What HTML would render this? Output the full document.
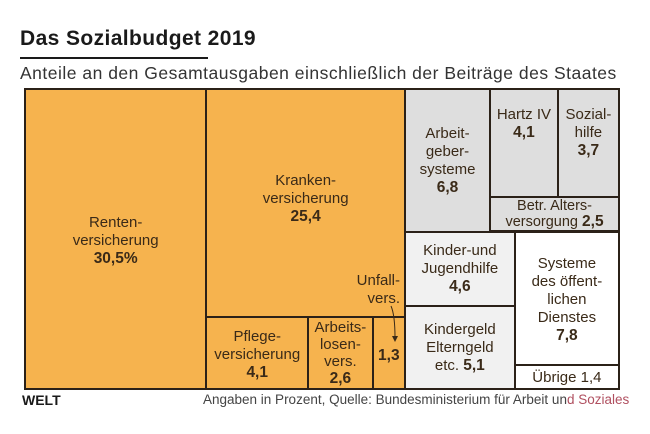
<!DOCTYPE html>
<html><head><meta charset="utf-8"><style>
body{margin:0;width:650px;height:434px;background:#fff;font-family:"Liberation Sans",sans-serif;overflow:hidden;position:relative;color:#2b2118}
#title{position:absolute;left:20px;top:27px;font-size:21px;font-weight:bold;color:#1a1a1a;letter-spacing:0.4px}
#uline{position:absolute;left:20px;top:57px;width:188px;height:2px;background:#1a1a1a}
#sub{position:absolute;left:20px;top:63px;font-size:17.5px;color:#333;letter-spacing:0.5px}
#map{position:absolute;left:0;top:0;width:650px;height:434px}
.cell{position:absolute;box-sizing:border-box;border:2px solid #2b2118;display:flex;flex-direction:column;align-items:center;justify-content:center;text-align:center;font-size:15px;line-height:18px;color:#3a2a18;white-space:nowrap}
.cell b{font-size:15.5px}
#welt{position:absolute;left:22px;top:392px;font-size:14px;font-weight:900;color:#1a1a1a}
#src{position:absolute;left:203px;top:392px;font-size:13.5px;color:#444}
</style></head><body>
<div id="title">Das Sozialbudget 2019</div>
<div id="uline"></div>
<div id="sub">Anteile an den Gesamtausgaben einschließlich der Beiträge des Staates</div>
<div id="map"></div>
<div id="welt">WELT</div>
<div id="src">Angaben in Prozent, Quelle: Bundesministerium für Arbeit un<span style="color:#b05060">d Soziales</span></div>
<script>
const names=["Renten","Kranken","Pflege","Arbeitslosen","Unfall","Arbeitgeber","Hartz","Sozial","Betr","KiJu","Kindergeld","Systeme","Uebrige"];
const values=[30.5,25.4,4.1,2.6,1.3,6.8,4.1,3.7,2.5,4.6,5.1,7.8,1.4];
const labels=["Renten-<br>versicherung<br><b>30,5%</b>","Kranken-<br>versicherung<br><b>25,4</b>","Pflege-<br>versicherung<br><b>4,1</b>","Arbeits-<br>losen-<br>vers.<br><b>2,6</b>","<b>1,3</b>","Arbeit-<br>geber-<br>systeme<br><b>6,8</b>","Hartz IV<br><b>4,1</b>","Sozial-<br>hilfe<br><b>3,7</b>","Betr. Alters-<br>versorgung <b>2,5</b>","Kinder-und<br>Jugendhilfe<br><b>4,6</b>","Kindergeld<br>Elterngeld<br>etc. <b>5,1</b>","Systeme<br>des öffent-<br>lichen<br>Dienstes<br><b>7,8</b>","Übrige 1,4"];
const fills=["#f6b34e","#f6b34e","#f6b34e","#f6b34e","#f6b34e","#dedede","#dedede","#dedede","#dedede","#f1f1f1","#f1f1f1","#fff","#fff"];
// tree: [direction, children] ; leaf = index
const tree=["h",[0,["v",[1,["h",[2,3,4]]]],["v",[["h",[5,["v",[["h",[6,7]],8]]]],["h",[["v",[9,10]],["v",[11,12]]]]]]]];
function sum(n){return typeof n==="number"?values[n]:n[1].reduce((a,c)=>a+sum(c),0);}
const map=document.getElementById('map');
function layout(n,x,y,w,h){
  if(typeof n==="number"){draw(n,x,y,w,h);return;}
  const t=sum(n);let off=0;
  n[1].forEach(c=>{const f=sum(c)/t;
    if(n[0]==="h"){layout(c,x+off,y,w*f,h);off+=w*f;}
    else{layout(c,x,y+off,w,h*f);off+=h*f;}});
}
const extra={Renten:"padding-top:4px",Kranken:"justify-content:flex-start;padding-top:82px",Hartz:"justify-content:flex-start;padding-top:16px",Sozial:"justify-content:flex-start;padding-top:16px",Arbeitgeber:"padding-top:2px",Betr:"line-height:16px;padding-top:0;font-size:14.5px",Uebrige:"padding-top:2px",Unfall:"padding-top:6px",Systeme:"justify-content:flex-start;padding-top:22px",Pflege:"padding-top:4px",Arbeitslosen:"line-height:17px"};
function draw(i,x,y,w,h){
  const d=document.createElement('div');
  
  
  d.className='cell';
  d.style.cssText=`left:${x-1}px;top:${y-1}px;width:${w+2}px;height:${h+2}px;background:${fills[i]};`+(extra[names[i]]||"");
  d.innerHTML='<div>'+labels[i]+'</div>';
  map.appendChild(d);
}
layout(tree,25,89,594,300);
const u=document.createElement('div');


u.style.cssText="position:absolute;left:340px;top:272px;width:60px;text-align:right;font-size:15px;line-height:18px;color:#3a2a18";
u.innerHTML="Unfall-<br>vers.";
map.appendChild(u);
const s=document.createElementNS("http://www.w3.org/2000/svg","svg");


s.setAttribute('style','position:absolute;left:0;top:0');
s.setAttribute('width','650');s.setAttribute('height','434');
s.innerHTML='<path d="M391 306 Q395 315 395 338" stroke="#3a2a18" fill="none" stroke-width="1"/><path d="M392 336 L398 336 L395 342Z" fill="#3a2a18"/>';
map.appendChild(s);
</script>
</body></html>
